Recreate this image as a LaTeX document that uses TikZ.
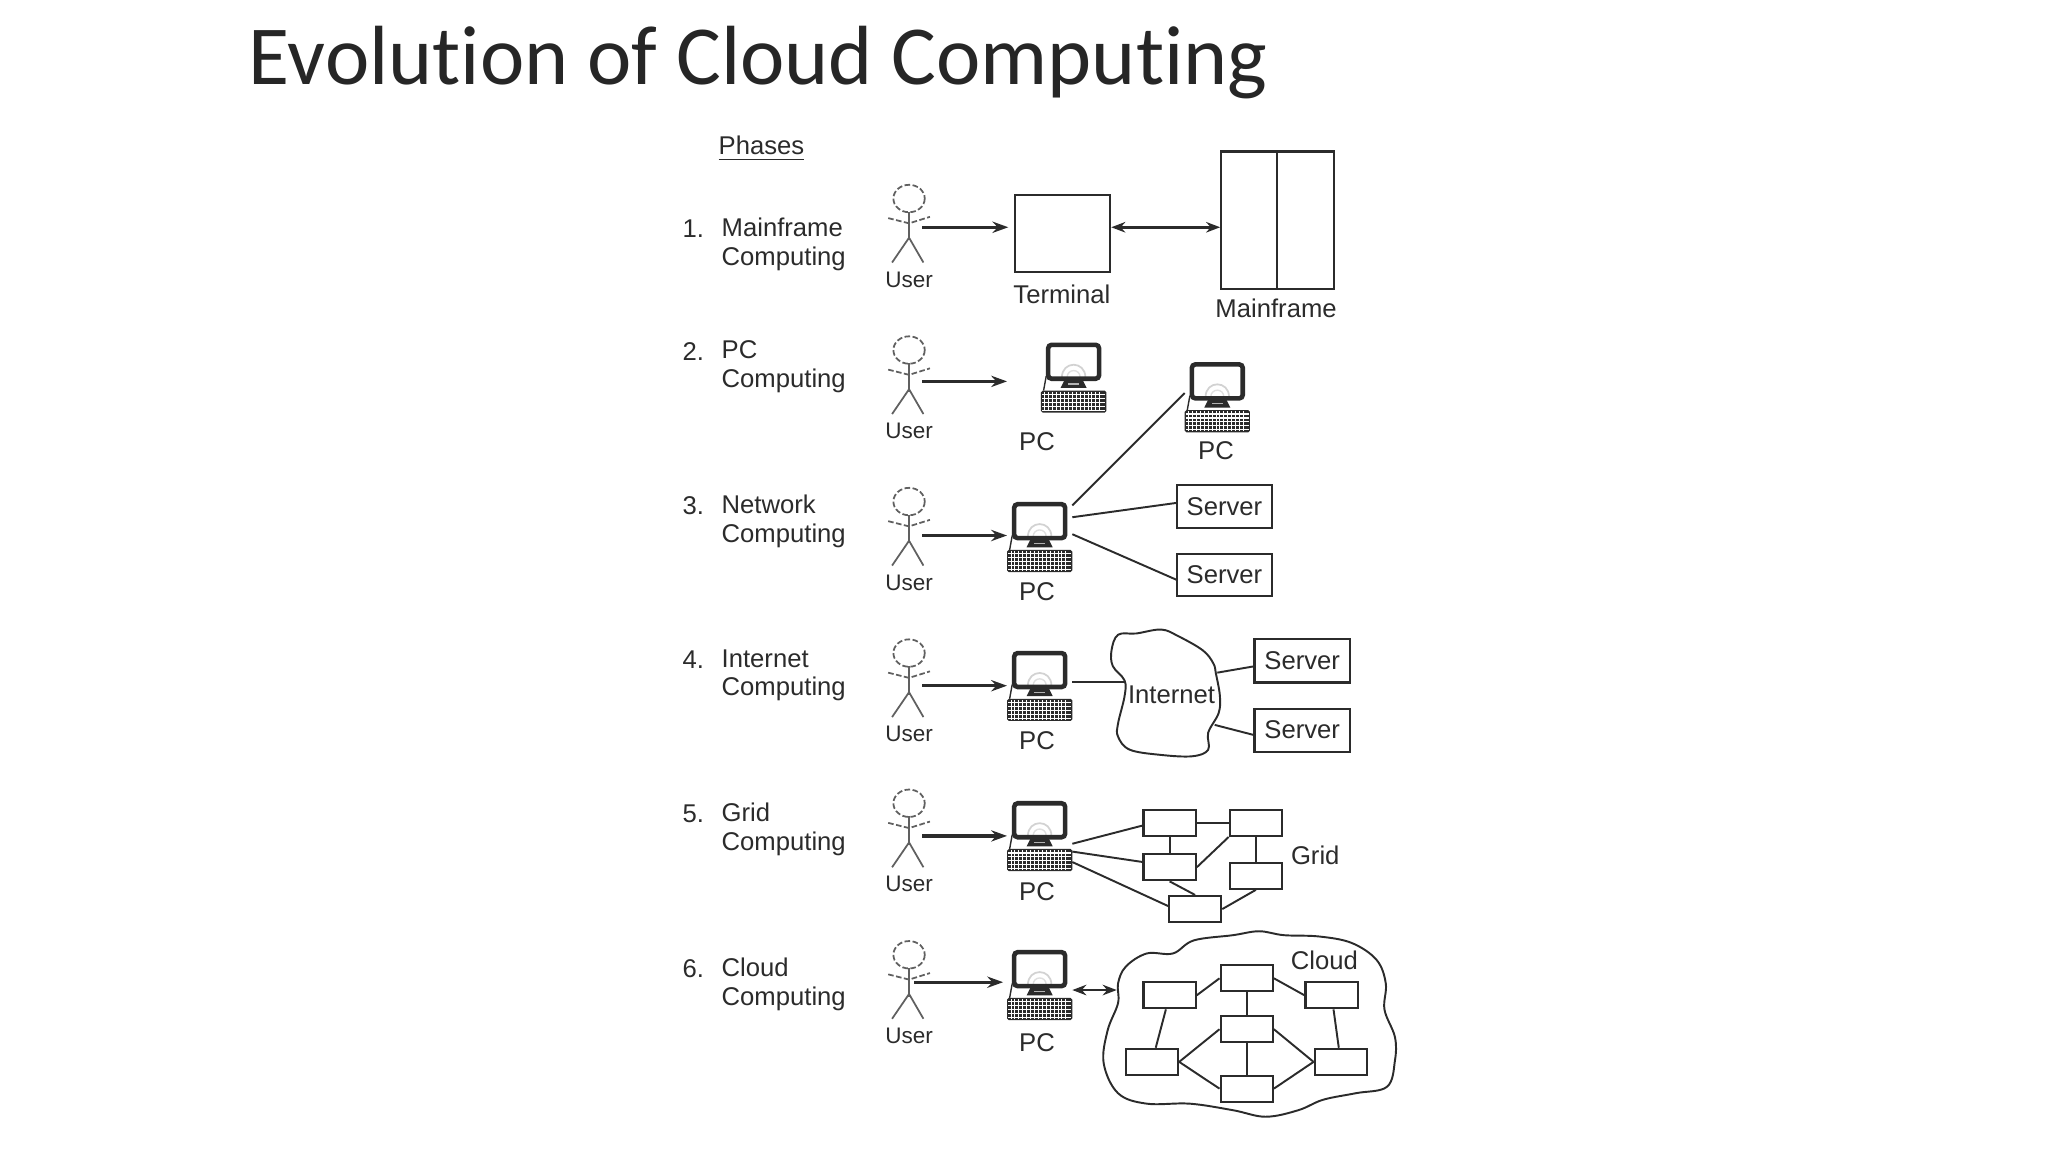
\documentclass[tikz,border=0pt]{standalone}
\usepackage{fontspec}
\setmainfont{Liberation Sans}
\newfontfamily\titlefont[Ligatures=NoCommon]{Carlito}
\usetikzlibrary{arrows.meta}
\def\pxu{0.013061cm}
\definecolor{ink}{HTML}{2B2B2B}

% one computer: monitor, stand, cable and keyboard
\newcommand{\pcicon}[3]{
    \node[pc box] (#1) at (#2,#3+26.5) {};
    \begin{scope}[shift={(#2,#3)}]
        \draw[gray!35,line width=0.5pt] (-9,26) .. controls (-9,13) and (9,13) .. (9,26);
        \draw[gray!25,line width=0.4pt] (-5,26) .. controls (-5,19) and (5,19) .. (5,26);
        \draw[ink,line width=1.3pt,rounded corners=1pt] (-19.5,1) rectangle (19.5,27);
        \fill[ink] (-7,28) -- (7,28) -- (10,34) -- (-10,34) -- cycle;
        \draw[gray!60,line width=0.4pt] (-4,31) -- (4,31);
        \draw[ink,line width=0.4pt] (-21,25) -- (-23,36);
        \fill[ink,rounded corners=0.5pt] (-25,36) rectangle (25,53);
        \foreach \kx in {-22,-19,...,22}
            \draw[white,line width=0.25pt] (\kx,37) -- (\kx,52);
        \foreach \ky in {39,42,45,48,51}
            \draw[white,line width=0.35pt] (-24,\ky) -- (24,\ky);
    \end{scope}
}

\begin{document}
\begin{tikzpicture}[x=\pxu,y=-\pxu,draw=ink,text=ink]
    \tikzstyle{label}=[font=\fontsize{7.3}{8.2}\selectfont,inner sep=0pt]
    \tikzstyle{user label}=[font=\fontsize{6.4}{8}\selectfont,inner sep=0pt]
    \tikzstyle{phase}=[label,anchor=west,align=left]
    \tikzstyle{box}=[draw,line width=0.6pt,fill=white,inner sep=0pt]
    \tikzstyle{server}=[box,label,draw,minimum width=73*\pxu,minimum height=33*\pxu]
    \tikzstyle{small box}=[box,minimum width=40*\pxu,minimum height=20*\pxu]
    \tikzstyle{pc box}=[minimum width=50*\pxu,minimum height=53*\pxu,inner sep=0pt]
    \tikzstyle{link}=[line width=0.55pt]
    \tikzstyle{arrow}=[line width=0.9pt,-{Stealth[length=4.5pt,width=3.2pt]}]
    \tikzstyle{both arrow}=[line width=0.8pt,{Stealth[length=4pt,width=3pt]}-{Stealth[length=4pt,width=3pt]}]
    \tikzstyle{stick}=[gray!75!black,line width=0.5pt]
    \tikzstyle{dotted stick}=[stick,dash pattern=on 1.6pt off 0.7pt]

    \useasboundingbox (0,0) rectangle (1568,882);

    \node[anchor=west,inner sep=0pt,text=black!85,font=\titlefont\fontsize{23.9}{28}\selectfont] (title) at (190,48) {Evolution of Cloud Computing};
    \node[label] (phases) at (583,114) {\underline{Phases}};

    % Draw the phase names and the users
    \foreach \n/\phase/\y/\ty/\ay/\hx/\ex in {1/Mainframe/152/187/174/706/772,2/PC/268/281/292/706/771,3/Network/384/399/410/706/771,4/Internet/500/517/525/706/771,5/Grid/615/635/640/706/771,6/Cloud/731/753.5/752/700/768}
    {
        \node[phase] (num-\n) at (522,\ty-12) {\n.};
        \node[phase] (name-\n) at (552,\ty) {\phase\\Computing};
        \draw[dotted stick] (696,\y) ellipse (12 and 10.5);
        \draw[stick] (696,\y+10) -- (696,\y+32);
        \draw[dotted stick] (680,\y+15) -- (696,\y+19) -- (712,\y+14);
        \draw[stick] (683,\y+49) -- (696,\y+30) -- (707,\y+49);
        \node[user label] (user-\n) at (696,\y+62) {User};
        \coordinate (hand-\n) at (\hx,\ay);
        \coordinate (tip-\n) at (\ex,\ay);
        \draw[arrow] (hand-\n) -- (tip-\n);
    }

    % Draw the computers
    \foreach \name/\px/\py/\lx/\ly in {PC-2/822/263/794/338,PC-up/932/278/931/345,PC-3/796/385/794/453,PC-4/796/499/794/567,PC-5/796/614/794/683,PC-6/796/728/794/798}
    {
        \pcicon{\name}{\px}{\py}
        \node[label] (\name-text) at (\lx,\ly) {PC};
    }

    % Phase 1
    \node[box,minimum width=73*\pxu,minimum height=59*\pxu] (terminal) at (813.5,178.5) {};
    \node[label] (terminal-text) at (813,225) {Terminal};
    \node[box,minimum width=86*\pxu,minimum height=105*\pxu] (mainframe) at (978,168.5) {};
    \draw[link] (mainframe.north) -- (mainframe.south);
    \node[label] (mainframe-text) at (977,236) {Mainframe};
    \draw[both arrow] (terminal.east |- 0,174) -- (mainframe.west |- 0,174);

    % Phase 3
    \node[server] (S1) at (937.5,388) {Server};
    \node[server,minimum height=32*\pxu] (S2) at (937.5,440) {Server};
    \coordinate (pc3a) at (821,387);
    \coordinate (pc3b) at (821,396);
    \coordinate (pc3c) at (821,409);
    \coordinate (pcup) at (907,301);
    \coordinate (s1in) at (901,385);
    \coordinate (s2in) at (901,444);
    \draw[link] (pc3a) -- (pcup);
    \draw[link] (pc3b) -- (s1in);
    \draw[link] (pc3c) -- (s2in);

    % Phase 4
    \draw[link] plot[smooth cycle,tension=0.6] coordinates {(851,498) (856,486) (870,485) (889,482) (902,487) (921,498) (929,508) (931,516) (934,533) (933,546) (925,561) (925,574) (913,579) (889,578) (865,574) (856,564) (856,554) (861,533) (861,521) (852,510)};
    \node[label] (internet) at (897,532) {Internet};
    \node[server] (S3) at (997,506) {Server};
    \node[server] (S4) at (997,559) {Server};
    \coordinate (pc4) at (821,522);
    \coordinate (net-a) at (861,522);
    \coordinate (net-b) at (932,515);
    \coordinate (net-c) at (930,555);
    \coordinate (s3in) at (961,510);
    \coordinate (s4in) at (961,563);
    \draw[link] (pc4) -- (net-a);
    \draw[link] (net-b) -- (s3in);
    \draw[link] (net-c) -- (s4in);

    % Phase 5
    \foreach \name/\x/\y in {G1/895.5/630,G2/961.5/630,G3/895.5/664,G4/961.5/670.5,G5/915/696}
        \node[small box] (\name) at (\x,\y) {};
    \node[label] (grid) at (1007,655) {Grid};
    \coordinate (pc5a) at (821,646);
    \coordinate (pc5b) at (821,652);
    \coordinate (pc5c) at (821,660);
    \coordinate (g1in) at (875,632);
    \coordinate (g3in) at (875,660);
    \coordinate (g5in) at (895,694);
    \draw[link] (pc5a) -- (g1in);
    \draw[link] (pc5b) -- (g3in);
    \draw[link] (pc5c) -- (g5in);
    \foreach \source/\dest in {G1/G2,G1/G3,G2/G4}
        \path[draw,link] (\source) -- (\dest);
    \draw[link] (G3.east) -- (G2.south west);
    \draw[link] (G3.south) -- (G5.north);
    \draw[link] (G4.south) -- (G5.east);

    % Phase 6
    \draw[link] plot[smooth cycle,tension=0.6] coordinates {(856,753) (862,740) (878,730) (898,730) (914,720) (944,716) (964,713) (983,716) (1010,717) (1035,722) (1054,735) (1061,753) (1060,773) (1068,794) (1068,812) (1062,832) (1038,837) (1013,842) (994,850) (969,855) (944,850) (911,845) (878,845) (856,837) (845,814) (848,789) (856,768)};
    \node[label] (cloud) at (1014,735) {Cloud};
    \foreach \name/\x/\y in {C1/895.5/762,C2/954.5/749,C3/1019.5/762,C4/882/813,C5/954.5/788,C6/1026.5/813,C7/954.5/833.5}
        \node[small box] (\name) at (\x,\y) {};
    \foreach \source/\dest in {C2/C5,C1/C4,C3/C6,C5/C7}
        \path[draw,link] (\source) -- (\dest);
    \foreach \source/\dest in {C1/C2,C2/C3,C4/C5,C5/C6,C4/C7,C7/C6}
        \draw[link] (\source.east) -- (\dest.west);
    \coordinate (pc6) at (821,758);
    \coordinate (cloud-in) at (855,758);
    \draw[both arrow] (pc6) -- (cloud-in);
\end{tikzpicture}
\end{document}
